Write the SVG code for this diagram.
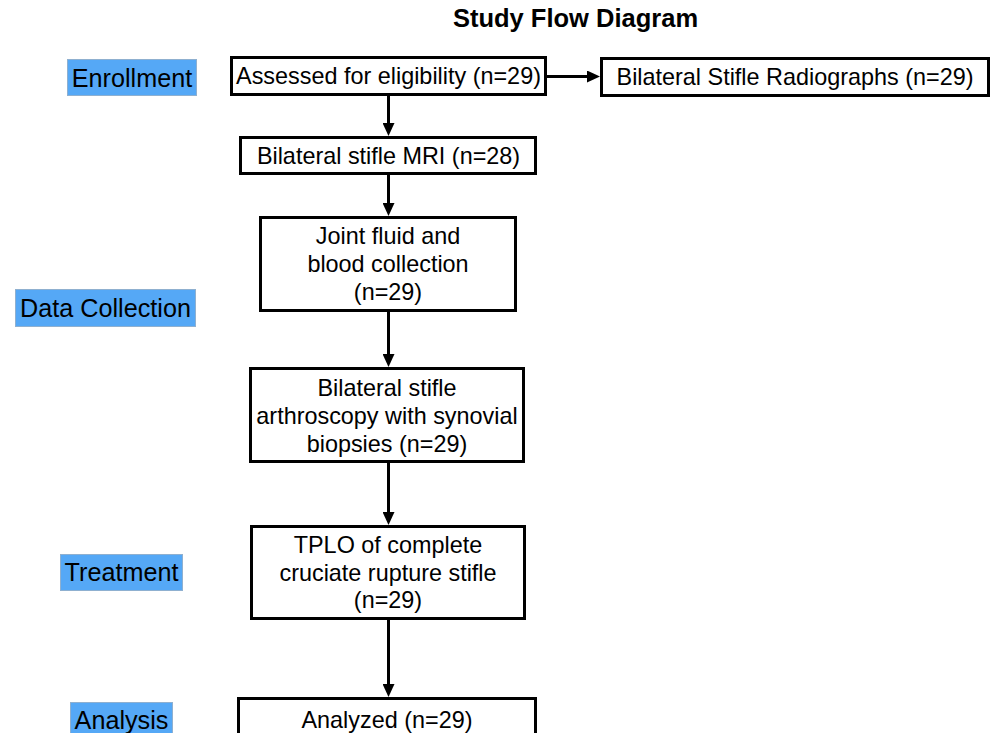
<svg xmlns="http://www.w3.org/2000/svg" width="997" height="733" viewBox="0 0 997 733">
  <style>
    text { font-family: "Liberation Sans", Arial, sans-serif; font-size: 23.4px; fill: #000; }
    .title { font-weight: bold; font-size: 25.5px; }
    .lt { font-size: 25.2px; }
    .box { fill: #fff; stroke: #000; stroke-width: 3; }
    .lab { fill: #55a8f6; stroke: #8fb0d0; stroke-width: 1; }
    .c { text-anchor: middle; }
    .edge { stroke: #000; stroke-width: 3; fill: none; marker-end: url(#ah); }
  </style>
  <defs>
    <marker id="ah" markerUnits="userSpaceOnUse" markerWidth="13" markerHeight="12" viewBox="0 0 13 12" refX="3" refY="6" orient="auto">
      <path d="M0,0 L13,6 L0,12 z" fill="#000"/>
    </marker>
  </defs>
  <rect width="997" height="733" fill="#fff"/>
  <text class="title c" x="575.5" y="27">Study Flow Diagram</text>

  <g id="label-enrollment">
    <rect class="lab" x="67.5" y="59.5" width="129" height="36"/>
    <text class="c lt" x="132" y="86.5">Enrollment</text>
  </g>
  <g id="label-data-collection">
    <rect class="lab" x="15.5" y="289.5" width="180" height="37"/>
    <text class="c lt" x="105.5" y="317">Data Collection</text>
  </g>
  <g id="label-treatment">
    <rect class="lab" x="60.5" y="554.5" width="122" height="36"/>
    <text class="c lt" x="121.5" y="581">Treatment</text>
  </g>
  <g id="label-analysis">
    <rect class="lab" x="70.5" y="702.5" width="102" height="40"/>
    <text class="c lt" x="121.5" y="728.5">Analysis</text>
  </g>

  <g id="connectors">
    <path class="edge" d="M388.5,96 V126"/>
    <path class="edge" d="M388.5,175 V206"/>
    <path class="edge" d="M388.5,312 V357"/>
    <path class="edge" d="M388.5,463 V515"/>
    <path class="edge" d="M388.5,620 V687"/>
    <path class="edge" d="M547,76.5 H590"/>
  </g>

  <g id="node-assessed">
    <rect class="box" x="231.5" y="57.5" width="314" height="37"/>
    <text class="c" x="388.5" y="84">Assessed for eligibility (n=29)</text>
  </g>
  <g id="node-radiographs">
    <rect class="box" x="601.5" y="58.5" width="387" height="37"/>
    <text class="c" x="795" y="85">Bilateral Stifle Radiographs (n=29)</text>
  </g>
  <g id="node-mri">
    <rect class="box" x="240.5" y="137.5" width="295" height="36"/>
    <text class="c" x="388.5" y="164">Bilateral stifle MRI (n=28)</text>
  </g>
  <g id="node-joint-fluid">
    <rect class="box" x="260.5" y="217.5" width="255" height="93"/>
    <text class="c" x="388" y="244">Joint fluid and</text>
    <text class="c" x="388" y="272">blood collection</text>
    <text class="c" x="388" y="300">(n=29)</text>
  </g>
  <g id="node-arthroscopy">
    <rect class="box" x="250.5" y="368.5" width="273" height="93"/>
    <text class="c" x="387" y="396">Bilateral stifle</text>
    <text class="c" x="387" y="424">arthroscopy with synovial</text>
    <text class="c" x="387" y="452">biopsies (n=29)</text>
  </g>
  <g id="node-tplo">
    <rect class="box" x="251.5" y="526.5" width="273" height="92"/>
    <text class="c" x="388" y="553">TPLO of complete</text>
    <text class="c" x="388" y="581">cruciate rupture stifle</text>
    <text class="c" x="388" y="608">(n=29)</text>
  </g>
  <g id="node-analyzed">
    <rect class="box" x="238.5" y="698.5" width="297" height="50"/>
    <text class="c" x="387" y="728">Analyzed (n=29)</text>
  </g>
</svg>
